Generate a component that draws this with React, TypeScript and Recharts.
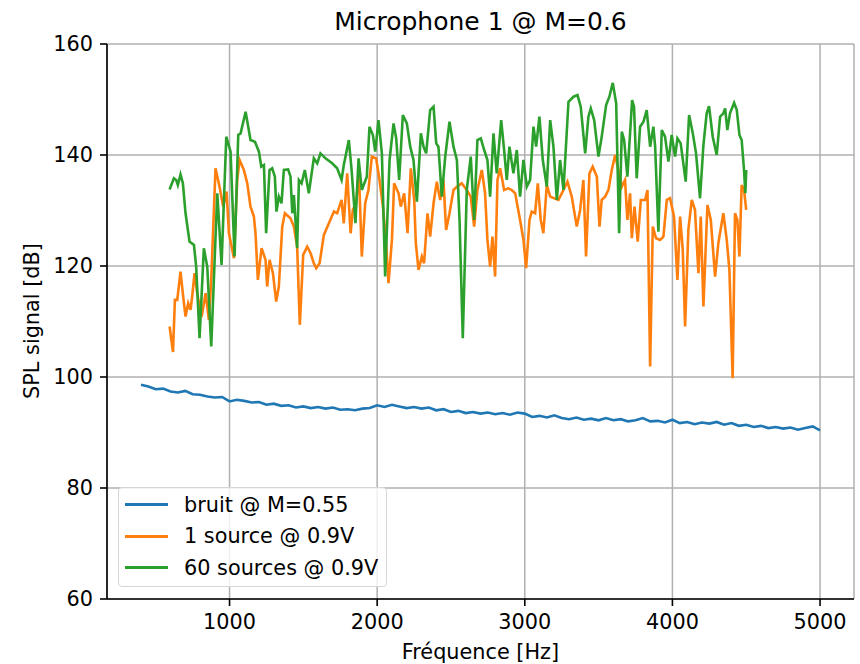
import React from 'react';
import { LineChart, Line, XAxis, YAxis, CartesianGrid } from 'recharts';

// bruit de fond, mesuré tous les 50 Hz à partir de 400 Hz
const bruitStart = 400;
const bruitStep = 50;
const bruitSpl = [
  98.6, 98.3, 97.8, 97.9, 97.4, 97.2, 97.5, 96.9, 96.8, 96.5, 96.3, 96.4, 95.6, 95.9, 95.7, 95.4,
  95.5, 95.0, 95.2, 94.8, 94.9, 94.5, 94.7, 94.4, 94.6, 94.3, 94.5, 94.1, 94.2, 94.0, 94.3, 94.4,
  94.9, 94.6, 95.0, 94.7, 94.4, 94.6, 94.3, 94.5, 94.0, 94.2, 93.7, 93.9, 93.5, 93.7, 93.4, 93.6,
  93.3, 93.5, 93.2, 93.6, 93.4, 92.8, 93.0, 92.7, 93.1, 92.6, 92.4, 92.7, 92.3, 92.5, 92.2, 92.6,
  92.2, 92.4, 92.0, 92.2, 92.6, 92.0, 92.1, 91.8, 92.3, 91.7, 91.9, 91.5, 91.8, 91.6, 91.9, 91.4,
  91.7, 91.2, 91.4, 91.0, 91.2, 90.8, 91.0, 90.7, 90.9, 90.5, 90.8, 91.1, 90.4,
];

// [fréquence Hz, SPL dB]
const oneSource: [number, number][] = [
  [594, 109.1], [617, 104.5], [630, 113.9], [646, 113.9], [668, 119.0], [686, 114.5], [702, 110.9],
  [720, 113.3], [736, 112.1], [747, 114.5], [763, 118.7], [781, 115.1], [797, 112.7], [815, 111.5],
  [838, 115.1], [860, 110.3], [876, 117.5], [890, 127.1], [905, 137.6], [932, 134.3], [957, 130.7],
  [980, 133.4], [996, 125.9], [1030, 121.4], [1052, 135.5], [1068, 139.1], [1097, 137.3],
  [1120, 134.9], [1142, 130.7], [1165, 128.9], [1176, 125.9], [1192, 117.5], [1217, 123.2],
  [1244, 121.1], [1255, 116.3], [1271, 121.1], [1294, 118.7], [1316, 113.6], [1334, 116.3],
  [1357, 127.1], [1375, 129.5], [1413, 128.6], [1436, 127.1], [1458, 123.5], [1476, 109.4],
  [1499, 122.0], [1526, 123.5], [1549, 122.3], [1571, 120.5], [1587, 119.6], [1610, 120.5],
  [1639, 125.6], [1673, 127.7], [1707, 129.8], [1729, 129.5], [1759, 131.9], [1774, 127.7],
  [1797, 136.7], [1820, 125.9], [1835, 130.1], [1858, 131.3], [1876, 137.3], [1896, 121.7],
  [1919, 131.3], [1941, 133.7], [1964, 139.7], [1993, 139.4], [2016, 135.5], [2039, 130.7],
  [2061, 124.1], [2077, 116.9], [2100, 124.7], [2115, 134.9], [2145, 133.1], [2160, 130.7],
  [2183, 133.1], [2206, 125.9], [2228, 137.6], [2251, 131.9], [2262, 124.1], [2280, 119.3],
  [2303, 121.7], [2318, 120.5], [2341, 129.5], [2359, 125.3], [2382, 131.3], [2404, 135.2],
  [2427, 131.9], [2449, 135.5], [2467, 126.5], [2490, 129.5], [2517, 133.7], [2540, 134.3],
  [2573, 134.9], [2607, 133.7], [2634, 132.5], [2657, 127.1], [2679, 133.7], [2709, 137.3],
  [2731, 133.1], [2747, 124.7], [2765, 119.9], [2781, 125.3], [2799, 118.1], [2815, 135.5],
  [2833, 137.6], [2860, 133.7], [2889, 134.0], [2912, 133.7], [2935, 133.1], [2968, 128.3],
  [2991, 124.7], [3009, 119.6], [3032, 128.3], [3047, 129.8], [3070, 129.5], [3088, 134.9],
  [3108, 128.3], [3126, 125.9], [3149, 134.6], [3172, 132.5], [3199, 132.2], [3228, 131.9],
  [3262, 133.7], [3289, 135.2], [3318, 132.5], [3352, 127.1], [3375, 130.1], [3397, 135.5],
  [3415, 121.7], [3438, 136.7], [3460, 137.9], [3488, 136.1], [3506, 127.1], [3521, 131.9],
  [3544, 132.5], [3567, 133.7], [3589, 137.3], [3612, 140.0], [3634, 137.3], [3657, 134.3],
  [3679, 135.5], [3695, 128.3], [3713, 133.1], [3725, 125.0], [3743, 130.7], [3765, 124.4],
  [3786, 131.9], [3815, 131.9], [3831, 133.7], [3849, 101.9], [3867, 127.1], [3889, 125.0],
  [3916, 124.7], [3939, 125.3], [3962, 131.9], [3984, 132.2], [4011, 128.9], [4034, 117.5],
  [4052, 128.9], [4070, 122.9], [4086, 109.1], [4108, 126.5], [4131, 131.9], [4153, 130.1],
  [4176, 118.7], [4192, 128.9], [4210, 112.7], [4237, 131.0], [4260, 128.3], [4289, 118.1],
  [4311, 124.1], [4345, 129.5], [4368, 124.7], [4386, 119.3], [4408, 99.8], [4424, 129.5],
  [4440, 128.3], [4454, 121.7], [4469, 134.6], [4485, 133.7], [4500, 130.1],
];

const sixtySources: [number, number][] = [
  [594, 133.8], [623, 135.8], [639, 135.5], [650, 134.6], [668, 136.5], [684, 134.9], [702, 129.5],
  [729, 124.4], [759, 123.8], [774, 119.9], [797, 107.0], [826, 123.2], [849, 119.9], [876, 105.5],
  [917, 133.1], [946, 120.2], [978, 143.3], [1007, 140.6], [1034, 121.7], [1059, 143.6],
  [1075, 143.9], [1109, 147.8], [1142, 142.7], [1172, 142.4], [1199, 140.6], [1215, 137.9],
  [1233, 138.2], [1248, 125.9], [1271, 137.3], [1289, 137.6], [1307, 136.1], [1318, 129.8],
  [1334, 132.5], [1352, 131.3], [1368, 137.3], [1397, 137.4], [1413, 136.1], [1425, 129.5],
  [1436, 132.8], [1458, 123.2], [1470, 135.5], [1488, 134.9], [1510, 137.3], [1537, 133.1],
  [1571, 139.4], [1594, 138.5], [1616, 140.3], [1650, 139.4], [1695, 138.5], [1729, 137.6],
  [1759, 135.5], [1774, 138.2], [1808, 142.7], [1826, 137.6], [1853, 127.7], [1874, 139.4],
  [1896, 133.7], [1930, 136.1], [1948, 145.1], [1971, 143.6], [1987, 140.6], [2009, 146.3],
  [2032, 140.3], [2054, 118.1], [2084, 139.1], [2111, 145.7], [2129, 143.0], [2149, 135.5],
  [2174, 147.2], [2201, 145.7], [2224, 141.5], [2246, 139.1], [2269, 131.6], [2296, 143.9],
  [2314, 141.5], [2332, 140.3], [2359, 148.1], [2382, 148.7], [2400, 142.1], [2415, 141.5],
  [2438, 132.5], [2461, 139.7], [2490, 146.0], [2517, 141.5], [2540, 139.1], [2558, 128.3],
  [2580, 107.0], [2607, 133.7], [2634, 139.7], [2657, 128.3], [2679, 142.7], [2702, 143.0],
  [2725, 140.9], [2747, 139.1], [2765, 132.5], [2788, 143.9], [2810, 136.7], [2840, 146.3],
  [2860, 140.9], [2878, 135.5], [2896, 141.5], [2923, 136.7], [2946, 140.9], [2968, 132.5],
  [2991, 139.1], [3014, 134.3], [3036, 135.5], [3059, 145.1], [3077, 141.5], [3099, 146.9],
  [3122, 139.1], [3149, 134.3], [3172, 146.3], [3194, 141.5], [3217, 131.9], [3239, 139.1],
  [3262, 133.7], [3296, 149.6], [3330, 150.5], [3357, 150.8], [3379, 148.7], [3409, 140.3],
  [3431, 146.9], [3447, 148.4], [3470, 146.3], [3499, 139.7], [3521, 143.3], [3551, 149.0],
  [3573, 150.5], [3596, 153.0], [3619, 149.3], [3639, 125.9], [3657, 144.2], [3673, 142.7],
  [3695, 136.1], [3727, 149.9], [3740, 148.7], [3758, 135.8], [3781, 145.1], [3804, 146.0],
  [3826, 148.1], [3849, 141.5], [3871, 145.1], [3883, 141.5], [3905, 126.2], [3928, 144.5],
  [3950, 143.3], [3973, 138.8], [3995, 143.6], [4018, 139.7], [4034, 143.0], [4056, 142.1],
  [4090, 135.2], [4113, 147.2], [4138, 143.9], [4160, 140.3], [4187, 132.2], [4210, 141.8],
  [4232, 147.5], [4248, 148.8], [4273, 143.3], [4300, 140.0], [4323, 146.9], [4345, 147.5],
  [4357, 148.4], [4372, 144.5], [4390, 147.5], [4418, 149.4], [4436, 148.1], [4454, 143.6],
  [4469, 142.7], [4485, 137.3], [4494, 133.1], [4500, 137.3],
];

const xTicks = [1000, 2000, 3000, 4000, 5000];
const yTicks = [60, 80, 100, 120, 140, 160];

const legendItems = [
  { label: 'bruit @ M=0.55', color: '#1f77b4' },
  { label: '1 source @ 0.9V', color: '#ff7f0e' },
  { label: '60 sources @ 0.9V', color: '#2ca02c' },
];

const bruitData = bruitSpl.map((v, i) => ({ f: bruitStart + i * bruitStep, spl: v }));
const oneData = oneSource.map(([f, spl]) => ({ f, spl }));
const sixtyData = sixtySources.map(([f, spl]) => ({ f, spl }));

const font = '"DejaVu Sans", sans-serif';
const tickStyle = { fontSize: 20.8, fill: '#000', fontFamily: font };
const axisLine = { stroke: '#000', strokeWidth: 1.6 };

export default function App() {
  return (
    <div style={{ position: 'absolute', left: 0, top: 0, width: 860, height: 664, background: '#fff', fontFamily: font, color: '#000' }}>
      <div style={{ position: 'absolute', left: 107, width: 747, top: 9, lineHeight: '25px', textAlign: 'center', fontSize: 25 }}>
        Microphone 1 @ M=0.6
      </div>
      <LineChart width={860} height={664} margin={{ top: 44, right: 6, bottom: 0, left: 0 }}>
        <CartesianGrid stroke="#b0b0b0" strokeWidth={1.5} />
        <XAxis
          dataKey="f"
          type="number"
          domain={[170, 5230]}
          ticks={xTicks}
          allowDuplicatedCategory={false}
          height={65}
          axisLine={axisLine}
          tickLine={axisLine}
          tickSize={7}
          tickMargin={8}
          tick={tickStyle}
        />
        <XAxis xAxisId="top" orientation="top" type="number" domain={[170, 5230]} height={0} tick={false} tickLine={false} axisLine={axisLine} />
        <YAxis
          type="number"
          domain={[60, 160]}
          ticks={yTicks}
          width={107}
          axisLine={axisLine}
          tickLine={axisLine}
          tickSize={7}
          tickMargin={7}
          tick={tickStyle}
        />
        <YAxis yAxisId="right" orientation="right" domain={[60, 160]} width={0} tick={false} tickLine={false} axisLine={axisLine} />
        <Line data={bruitData} dataKey="spl" stroke="#1f77b4" strokeWidth={2.6} dot={false} isAnimationActive={false} />
        <Line data={oneData} dataKey="spl" stroke="#ff7f0e" strokeWidth={2.6} dot={false} isAnimationActive={false} />
        <Line data={sixtyData} dataKey="spl" stroke="#2ca02c" strokeWidth={2.6} dot={false} isAnimationActive={false} />
      </LineChart>
      <div style={{ position: 'absolute', left: 32, top: 321, width: 0, height: 0 }}>
        <div style={{ position: 'absolute', left: 0, top: 0, transform: 'translate(-50%, -50%) rotate(-90deg)', whiteSpace: 'nowrap', fontSize: 20.8, lineHeight: 1 }}>
          SPL signal [dB]
        </div>
      </div>
      <div style={{ position: 'absolute', left: 107, width: 747, top: 642, lineHeight: '20.8px', textAlign: 'center', fontSize: 20.8 }}>
        Fréquence [Hz]
      </div>
      <div
        style={{
          position: 'absolute',
          left: 118,
          top: 487,
          width: 269,
          height: 100,
          background: 'rgba(255,255,255,0.8)',
          border: '1.5px solid #d6d6d6',
          borderRadius: 4,
          boxSizing: 'border-box',
          paddingTop: 1,
        }}
      >
        {legendItems.map((item) => (
          <div key={item.label} style={{ display: 'flex', alignItems: 'center', height: 31.6, fontSize: 20.8, whiteSpace: 'nowrap' }}>
            <div style={{ width: 43, height: 3, background: item.color, marginLeft: 6, marginRight: 16 }} />
            <span>{item.label}</span>
          </div>
        ))}
      </div>
    </div>
  );
}
